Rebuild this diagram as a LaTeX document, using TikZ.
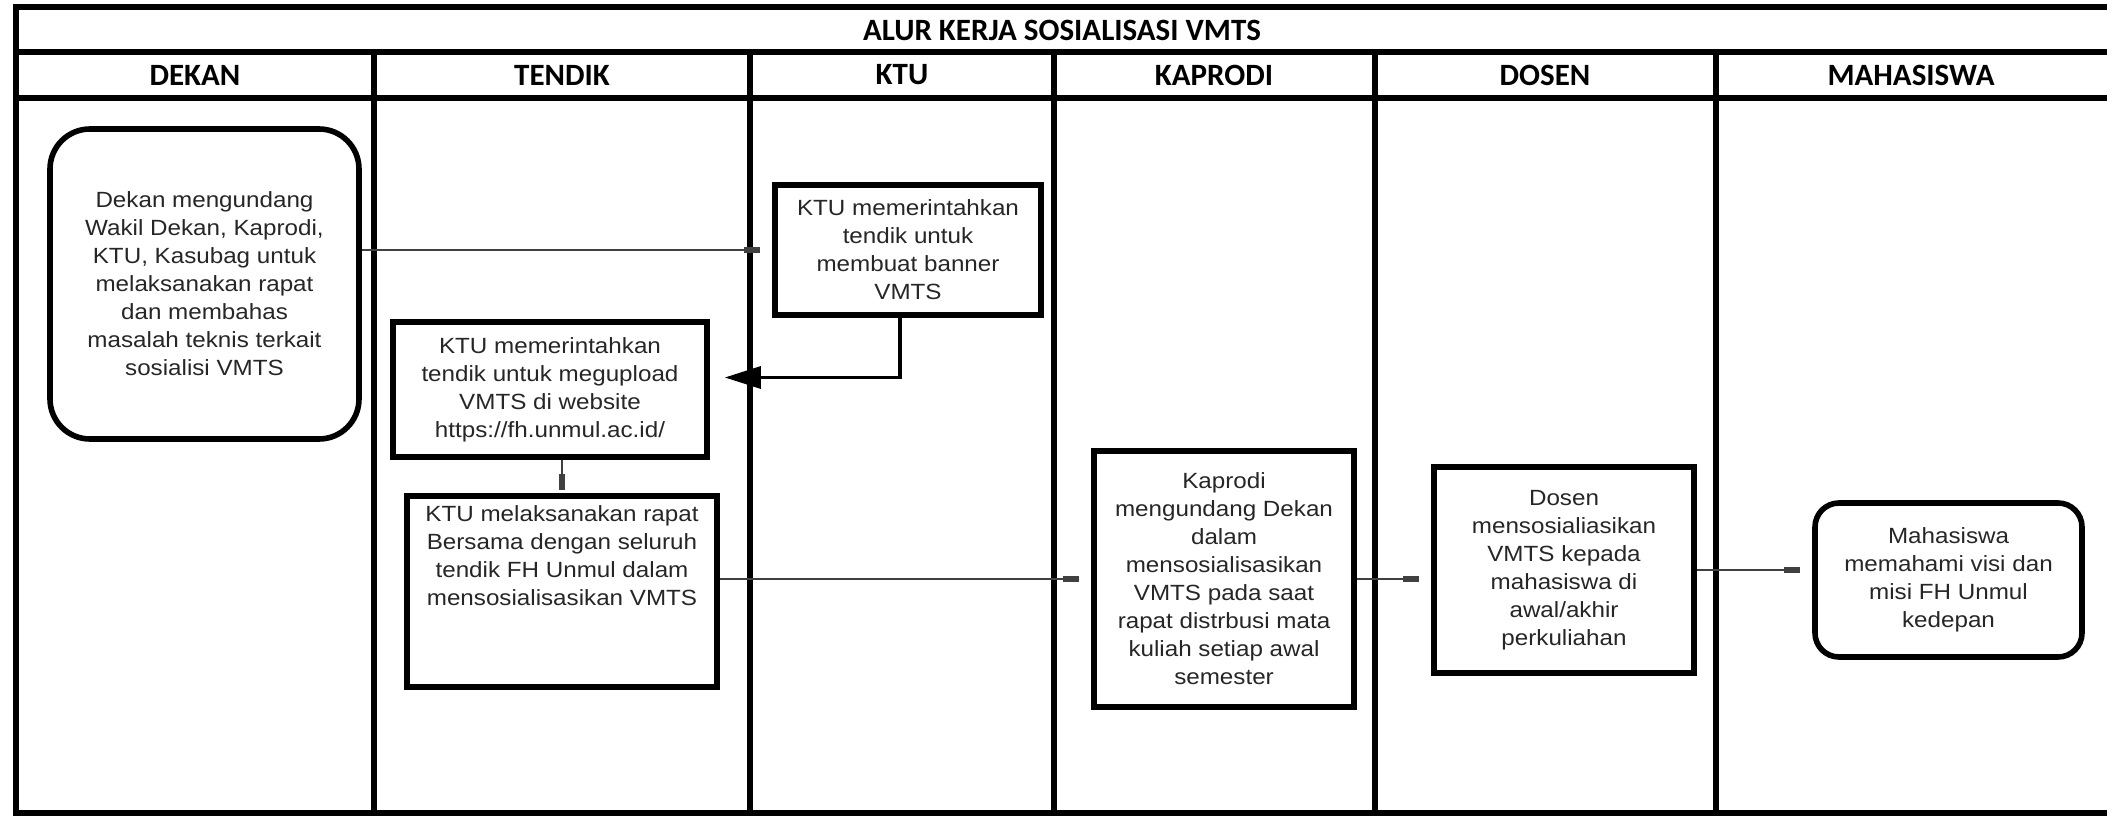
\documentclass[tikz,border=0pt]{standalone}
\usepackage{fontspec}
\setmainfont{Liberation Sans}
\newfontfamily\headfont{Carlito}
\newfontfamily\boxfont[FakeStretch=1.1]{Liberation Sans}
\usetikzlibrary{arrows.meta}
\tikzstyle{lane} = [line width=2.6pt]
\tikzstyle{headtext} = [font=\headfont\fontsize{15.5pt}{18pt}\selectfont\bfseries]
\tikzstyle{procbox} = [draw, line width=2.8pt, align=center, inner sep=0pt, text=black!85, font=\boxfont\fontsize{11pt}{14pt}\selectfont]
\tikzstyle{termbox} = [procbox, rounded corners=20pt]
\tikzstyle{flow} = [line width=0.7pt, draw=black!75, -{Rectangle[length=8pt,width=3pt]}, shorten >=6pt]
\tikzstyle{bigflow} = [line width=1.6pt, -{Triangle[length=18pt,width=11pt]}, shorten >=7.5pt]

\begin{document}
\begin{tikzpicture}[x=0.5pt, y=-0.5pt]
  \useasboundingbox (0,0) rectangle (2107,817);

  % FRAME
  % outer border (open on the right)
  \draw[lane] (2115,7) -- (16,7) -- (16,813) -- (2115,813);
  % title and header rules
  \draw[lane] (16,52) -- (2115,52);
  \draw[lane] (16,98) -- (2115,98);
  % lane dividers
  \draw[lane] (374,52) -- (374,813);
  \draw[lane] (750,52) -- (750,813);
  \draw[lane] (1054,52) -- (1054,813);
  \draw[lane] (1375,52) -- (1375,813);
  \draw[lane] (1716,52) -- (1716,813);

  % HEADERS
  \node[headtext] (title) at (1062,30) {ALUR KERJA SOSIALISASI VMTS};
  \node[headtext] (hdekan) at (195,75) {DEKAN};
  \node[headtext] (htendik) at (562,75) {TENDIK};
  \node[headtext] (hktu) at (902,75) {KTU};
  \node[headtext] (hkaprodi) at (1214,75) {KAPRODI};
  \node[headtext] (hdosen) at (1545,75) {DOSEN};
  \node[headtext] (hmhs) at (1911,75) {MAHASISWA};

  % STEPS
  % dekan
  \node[termbox, minimum width=154.5pt, minimum height=155pt] (dekanbox) at (204.5,284)
    {Dekan mengundang\\Wakil Dekan, Kaprodi,\\KTU, Kasubag untuk\\melaksanakan rapat\\dan membahas\\masalah teknis terkait\\sosialisi VMTS};
  % ktu
  \node[procbox, minimum width=133pt, minimum height=65pt] (ktubox) at (908,250)
    {KTU memerintahkan\\tendik untuk\\membuat banner\\VMTS};
  % tendik
  \node[procbox, minimum width=157pt, minimum height=67.5pt] (uploadbox) at (550,389.5)
    {KTU memerintahkan\\tendik untuk megupload\\VMTS di website\\https://fh.unmul.ac.id/};
  \node[procbox, minimum width=155pt, minimum height=95.5pt] (rapatbox) at (562,591.5)
    {\parbox[c][95.5pt][t]{155pt}{\vspace*{5pt}\centering KTU melaksanakan rapat\\Bersama dengan seluruh\\tendik FH Unmul dalam\\mensosialisasikan VMTS}};
  % kaprodi
  \node[procbox, minimum width=130pt, minimum height=128pt] (kaprodibox) at (1224,579)
    {Kaprodi\\mengundang Dekan\\dalam\\mensosialisasikan\\VMTS pada saat\\rapat distrbusi mata\\kuliah setiap awal\\semester};
  % dosen
  \node[procbox, minimum width=130pt, minimum height=103pt] (dosenbox) at (1564,570)
    {Dosen\\mensosialiasikan\\VMTS kepada\\mahasiswa di\\awal/akhir\\perkuliahan};
  % mahasiswa
  \node[termbox, rounded corners=12pt, minimum width=133.5pt, minimum height=77pt] (mhsbox) at (1948.5,580)
    {Mahasiswa\\memahami visi dan\\misi FH Unmul\\kedepan};

  % CONNECTORS
  \draw[flow] (dekanbox.east |- ktubox.west) -- (ktubox.west);
  \draw[bigflow] ([xshift=-4pt]ktubox.south) |- ([yshift=6pt]uploadbox.east);
  \draw[flow, shorten >=1.5pt] (rapatbox.north |- uploadbox.south) -- (rapatbox.north);
  \draw[flow] (rapatbox.east |- kaprodibox.west) -- (kaprodibox.west);
  \draw[flow] (kaprodibox.east) -- (kaprodibox.east -| dosenbox.west);
  \draw[flow] (dosenbox.east) -- (dosenbox.east -| mhsbox.west);
\end{tikzpicture}
\end{document}
